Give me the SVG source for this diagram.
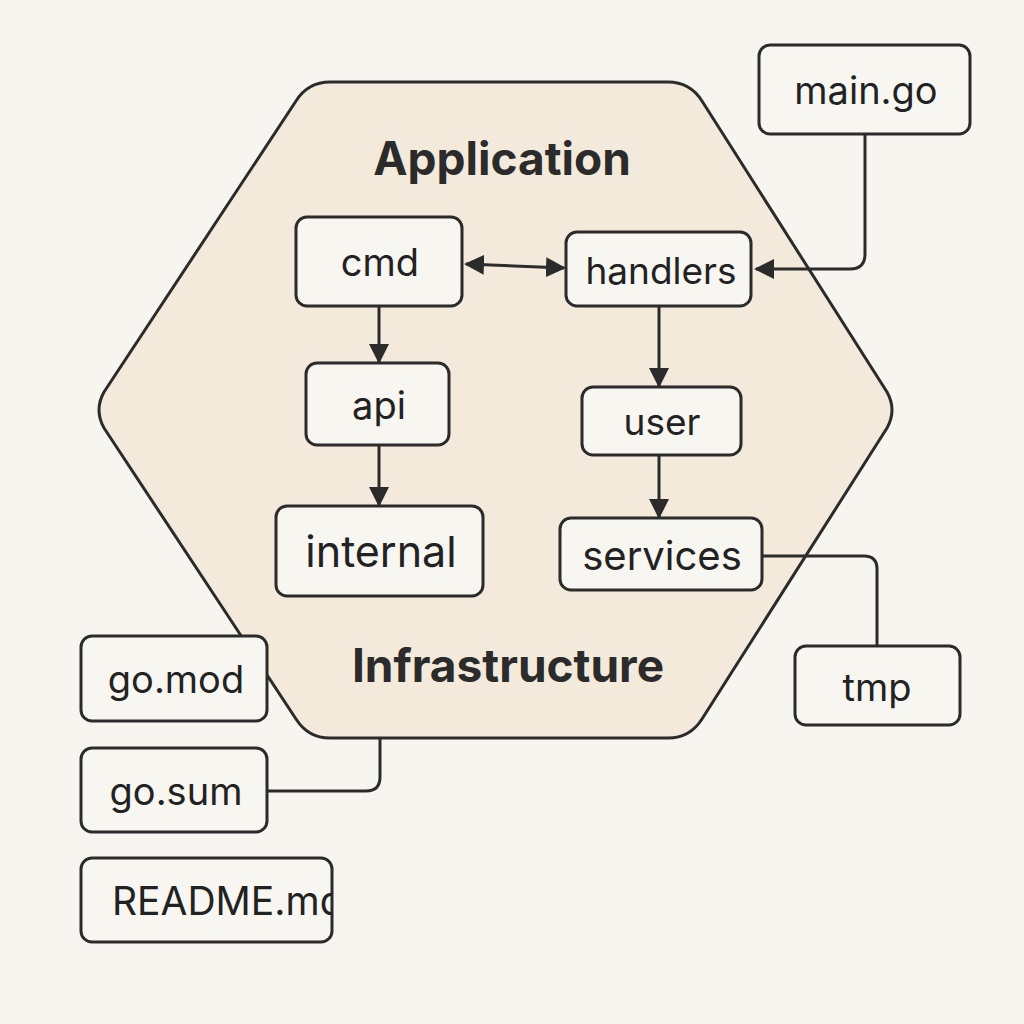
<svg xmlns="http://www.w3.org/2000/svg" width="1024" height="1024" viewBox="0 0 1024 1024">
<style>
.bg{fill:#f7f5f0}
.hex{fill:#f3eadc;stroke:#2b2b2b;stroke-width:3;stroke-linejoin:round}
.node rect{fill:#f8f6f1;stroke:#2b2b2b;stroke-width:3}
.node text{font-family:Inter,"Liberation Sans",sans-serif;font-size:38px;fill:#222;text-anchor:middle;dominant-baseline:central}
.title{font-family:Inter,"Liberation Sans",sans-serif;font-weight:bold;font-size:46px;fill:#2b2b2b;text-anchor:middle;dominant-baseline:central}
.edge{fill:none;stroke:#2b2b2b;stroke-width:3}
</style>
<defs>
<marker id="a" viewBox="0 0 10 10" refX="9" refY="5" markerWidth="20" markerHeight="20" markerUnits="userSpaceOnUse" orient="auto-start-reverse">
<path d="M0,0 L10,5 L0,10 z" fill="#2b2b2b"/>
</marker>
<clipPath id="rclip"><rect x="81" y="858" width="251" height="84"/></clipPath>
</defs>
<rect class="bg" x="0" y="0" width="1024" height="1024"/>
<g id="hexagon">
<path class="hex" d="M330,82 L668,82 Q690,82 702,101 L887,392 Q897,410 887,428 L702,719 Q690,738 668,738 L330,738 Q308,738 296,719 L104,428 Q94,410 104,392 L296,101 Q308,82 330,82 Z"/>
<text class="title" x="502" y="158">Application</text>
<text class="title" x="508" y="665">Infrastructure</text>
</g>
<g id="connectors">
<line class="edge" x1="466" y1="264" x2="564" y2="268" marker-start="url(#a)" marker-end="url(#a)"/>
<path class="edge" d="M865,134 V254 Q865,269 850,269 H756" marker-end="url(#a)"/>
<line class="edge" x1="379" y1="306" x2="379" y2="362" marker-end="url(#a)"/>
<line class="edge" x1="379" y1="445" x2="379" y2="505" marker-end="url(#a)"/>
<line class="edge" x1="659" y1="306" x2="659" y2="386" marker-end="url(#a)"/>
<line class="edge" x1="659" y1="455" x2="659" y2="517" marker-end="url(#a)"/>
<path class="edge" d="M762,556 H864 Q877,556 877,569 V646"/>
<path class="edge" d="M380,738 V777 Q380,791 366,791 H267"/>
</g>
<g id="main-go" class="node"><rect x="759" y="45" width="211" height="89" rx="11"/><text x="866" y="90">main.go</text></g>
<g id="cmd" class="node"><rect x="296" y="217" width="166" height="89" rx="11"/><text x="380" y="262">cmd</text></g>
<g id="handlers" class="node"><rect x="566" y="232" width="185" height="74" rx="11"/><text x="661" y="270" style="font-size:37px">handlers</text></g>
<g id="api" class="node"><rect x="306" y="363" width="143" height="82" rx="11"/><text x="379" y="405">api</text></g>
<g id="user" class="node"><rect x="582" y="387" width="159" height="68" rx="11"/><text x="662" y="421" style="font-size:37px">user</text></g>
<g id="internal" class="node"><rect x="276" y="506" width="207" height="90" rx="11"/><text x="381" y="551" style="font-size:43px">internal</text></g>
<g id="services" class="node"><rect x="560" y="518" width="202" height="72" rx="11"/><text x="662" y="555" style="font-size:40px">services</text></g>
<g id="go-mod" class="node"><rect x="81" y="636" width="186" height="85" rx="11"/><text x="176" y="679">go.mod</text></g>
<g id="go-sum" class="node"><rect x="81" y="748" width="186" height="84" rx="11"/><text x="176" y="791">go.sum</text></g>
<g id="readme" class="node"><rect x="81" y="858" width="251" height="84" rx="11"/><text x="112" y="900" clip-path="url(#rclip)" style="text-anchor:start;font-size:39px">README.md</text></g>
<g id="tmp" class="node"><rect x="795" y="646" width="165" height="79" rx="11"/><text x="877" y="687">tmp</text></g>
</svg>
